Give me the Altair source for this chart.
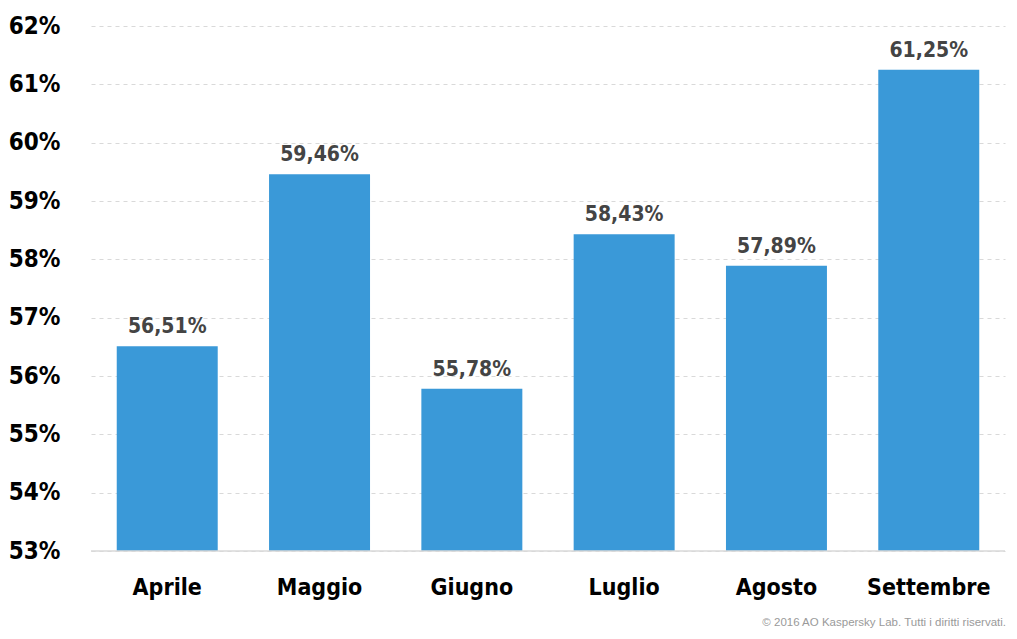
import altair as alt
import pandas as pd

months = ["Aprile", "Maggio", "Giugno", "Luglio", "Agosto", "Settembre"]
values = [56.51, 59.46, 55.78, 58.43, 57.89, 61.25]
y_ticks = [53, 54, 55, 56, 57, 58, 59, 60, 61, 62]
copyright_text = "© 2016 AO Kaspersky Lab. Tutti i diritti riservati."

df = pd.DataFrame({
    "mese": months,
    "valore": values,
    "etichetta": [f"{v:.2f}".replace(".", ",") + "%" for v in values],
})

FONT = "DejaVu Sans Condensed, Liberation Sans Narrow, Roboto, sans-serif"
W, H = 914, 525

x = alt.X("mese:N", sort=months, title=None,
          scale=alt.Scale(paddingInner=0.337, paddingOuter=0.169),
          axis=alt.Axis(labelAngle=0, labelFont=FONT, labelFontSize=23,
                        labelFontWeight="bold", labelColor="#000000",
                        labelPadding=25, ticks=False, domain=False))
y = alt.Y("valore:Q", title=None,
          scale=alt.Scale(domain=[53, 62], nice=False, zero=False),
          axis=alt.Axis(values=y_ticks, labelExpr="datum.value + '%'",
                        labelFont=FONT, labelFontSize=24, labelFontWeight="bold",
                        labelColor="#000000", labelPadding=31, ticks=False,
                        domain=False, grid=True, gridDash=[4, 4],
                        gridColor="#d9d9d9", gridWidth=1))

base = alt.Chart(df)

bars = base.mark_bar(color="#3a99d8").encode(x=x, y=y, y2=alt.datum(53))

labels = base.mark_text(font=FONT, fontSize=21, fontWeight="bold",
                        color="#444444", baseline="bottom", dy=-9).encode(
    x=alt.X("mese:N", sort=months), y="valore:Q", text="etichetta:N")

baseline = alt.Chart(pd.DataFrame({"b": [53]})).mark_rule(
    color="#d9d9d9", strokeWidth=1.5).encode(y="b:Q")

copy = alt.Chart(pd.DataFrame({"t": [copyright_text]})).mark_text(
    font="Liberation Sans, Arial, sans-serif", fontSize=11.5, color="#9a9a9a",
    align="right", baseline="middle").encode(
    x=alt.value(W + 1), y=alt.value(H + 72), text="t:N")

chart = alt.layer(bars, baseline, labels, copy).properties(
    width=W, height=H,
    background="#ffffff",
    autosize=alt.AutoSizeParams(type="none"),
    padding={"left": 83, "top": 18, "right": 2, "bottom": 78},
).configure_view(strokeWidth=0, stroke=None)

chart.save("out.html", embed_options={"renderer": "svg", "actions": False})
